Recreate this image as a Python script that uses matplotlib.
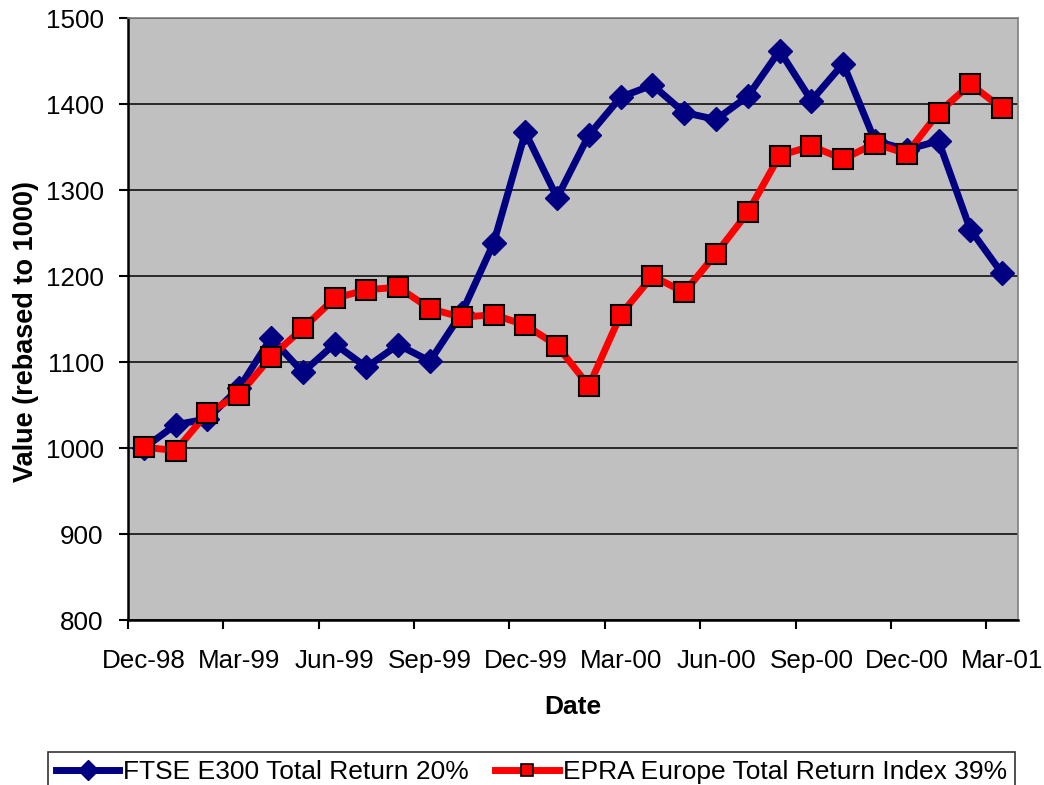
import matplotlib
matplotlib.use("Agg")
import matplotlib.pyplot as plt
from matplotlib.ticker import FixedLocator, NullFormatter

plt.rcParams['font.family'] = ['Liberation Sans', 'DejaVu Sans']

# monthly observations, Dec-98 .. Mar-01
months = ['Dec-98', 'Jan-99', 'Feb-99', 'Mar-99', 'Apr-99', 'May-99', 'Jun-99',
          'Jul-99', 'Aug-99', 'Sep-99', 'Oct-99', 'Nov-99', 'Dec-99', 'Jan-00',
          'Feb-00', 'Mar-00', 'Apr-00', 'May-00', 'Jun-00', 'Jul-00', 'Aug-00',
          'Sep-00', 'Oct-00', 'Nov-00', 'Dec-00', 'Jan-01', 'Feb-01', 'Mar-01']

ftse = [1000, 1027, 1034, 1070, 1128, 1088, 1121, 1094, 1120, 1101,
        1157, 1238, 1367, 1291, 1364, 1408, 1422, 1390, 1382, 1409,
        1462, 1404, 1447, 1357, 1347, 1357, 1254, 1203]

epra = [1001, 997, 1041, 1062, 1106, 1139, 1174, 1184, 1187, 1162,
        1152, 1155, 1143, 1119, 1072, 1155, 1200, 1181, 1226, 1274,
        1340, 1351, 1336, 1354, 1342, 1390, 1423, 1395]

ftse_label = 'FTSE E300 Total Return 20%'
epra_label = 'EPRA Europe Total Return Index 39%'

x = list(range(len(months)))

fig = plt.figure(figsize=(10.44, 7.85), dpi=100)
ax = fig.add_axes([128/1044, 1 - 620/785, 890/1044, 602/785])
ax.set_facecolor('#C0C0C0')

ax.plot(x, ftse, color='#000080', lw=5, marker='D', ms=12,
        mfc='#000080', mec='#000080', label=ftse_label, zorder=3)
ax.plot(x, epra, color='#FF0000', lw=5, marker='s', ms=14,
        mfc='#FF0000', mec='black', mew=1.5, label=epra_label, zorder=4)

ax.set_xlim(-0.5, len(months) - 0.5)
ax.set_ylim(800, 1500)
ax.set_yticks(range(800, 1501, 100))
ax.yaxis.grid(True, color='black', lw=1.1)
ax.set_axisbelow(True)

# ticks between months, labels on every third month
ax.xaxis.set_major_locator(FixedLocator([i - 0.5 for i in range(0, len(months) + 1, 3)]))
ax.xaxis.set_major_formatter(NullFormatter())
ax.xaxis.set_minor_locator(FixedLocator(x[::3]))
ax.set_xticklabels([months[i] for i in x[::3]], minor=True)
ax.tick_params(axis='x', which='major', direction='out', length=6.5, width=1.5)
ax.tick_params(axis='x', which='minor', length=0, pad=21, labelsize=18.7)
ax.tick_params(axis='y', direction='out', length=6.5, width=1.5, pad=11, labelsize=18.7)

for s in ['left', 'bottom']:
    ax.spines[s].set_linewidth(1.8)
    ax.spines[s].set_color('black')
for s in ['top', 'right']:
    ax.spines[s].set_linewidth(1.2)
    ax.spines[s].set_color('#808080')

ax.set_xlabel('Date', fontsize=19, fontweight='bold')
ax.xaxis.set_label_coords(0.5, -0.125)
ax.set_ylabel('Value (rebased to 1000)', fontsize=19.5, fontweight='bold')
ax.yaxis.set_label_coords(-0.1, 0.48)

leg = fig.legend(loc='upper left', bbox_to_anchor=(48/1044, 1 - 752/785),
                 ncol=2, fontsize=19, frameon=True, fancybox=False,
                 edgecolor='black', handlelength=2.4, handletextpad=0.15,
                 columnspacing=1.0, borderpad=0.3, borderaxespad=0)
leg.get_frame().set_linewidth(1.2)
leg.legend_handles[0].set_markersize(10)
leg.legend_handles[1].set_markersize(9)
leg.legend_handles[1].set_markeredgewidth(1.2)

fig.savefig('out.png', dpi=100)
